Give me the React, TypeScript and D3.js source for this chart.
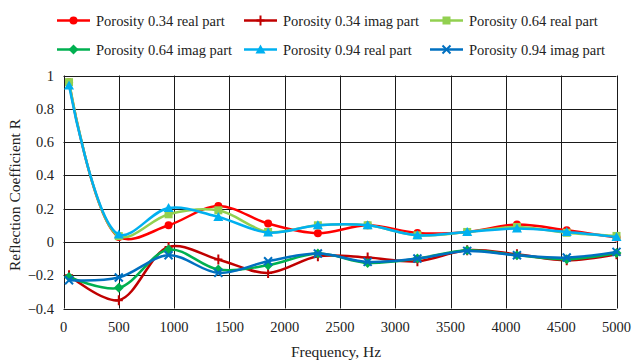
import React, { useEffect, useRef } from "react";
import * as d3 from "d3";

const frequencies = [50, 500, 950, 1400, 1850, 2300, 2750, 3200, 3650, 4100, 4550, 5000];

const real034 = [0.96, 0.03, 0.1, 0.216, 0.11, 0.052, 0.1, 0.054, 0.06, 0.104, 0.07, 0.026];
const imag034 = [-0.2, -0.35, -0.03, -0.106, -0.186, -0.086, -0.094, -0.116, -0.05, -0.074, -0.11, -0.074];
const real064 = [0.96, 0.035, 0.166, 0.19, 0.06, 0.1, 0.1, 0.04, 0.06, 0.09, 0.055, 0.036];
const imag064 = [-0.21, -0.276, -0.046, -0.166, -0.14, -0.07, -0.126, -0.1, -0.05, -0.08, -0.104, -0.066];
const real094 = [0.94, 0.045, 0.204, 0.15, 0.056, 0.1, 0.1, 0.04, 0.06, 0.08, 0.06, 0.03];
const imag094 = [-0.23, -0.214, -0.08, -0.186, -0.116, -0.07, -0.12, -0.1, -0.054, -0.08, -0.094, -0.06];

const seriesNames = [
  "Porosity 0.34 real part",
  "Porosity 0.34 imag part",
  "Porosity 0.64 real part",
  "Porosity 0.64 imag part",
  "Porosity 0.94 real part",
  "Porosity 0.94 imag part",
];
const seriesValues = [real034, imag034, real064, imag064, real094, imag094];
const seriesColors = ["#ff0000", "#c00000", "#92d050", "#00b050", "#00b0f0", "#0070c0"];
const seriesMarkers = ["circle", "plus", "square", "diamond", "triangle", "cross"];

const xTicks = [0, 500, 1000, 1500, 2000, 2500, 3000, 3500, 4000, 4500, 5000];
const yTicks = [-0.4, -0.2, 0, 0.2, 0.4, 0.6, 0.8, 1];

const W = 634;
const H = 363;
const FONT = "'Liberation Serif', serif";
const FS = "14.5px";

function drawMarker(g, type, x, y, color) {
  if (type === "circle") {
    g.append("circle").attr("cx", x).attr("cy", y).attr("r", 4).attr("fill", color);
  } else if (type === "square") {
    g.append("rect").attr("x", x - 4).attr("y", y - 4).attr("width", 8).attr("height", 8).attr("fill", color);
  } else if (type === "diamond") {
    g.append("path").attr("d", `M${x},${y - 5}L${x + 5},${y}L${x},${y + 5}L${x - 5},${y}Z`).attr("fill", color);
  } else if (type === "triangle") {
    g.append("path").attr("d", `M${x},${y - 5}L${x + 5},${y + 4}L${x - 5},${y + 4}Z`).attr("fill", color);
  } else if (type === "plus") {
    g.append("path").attr("d", `M${x},${y - 5}V${y + 5}M${x - 4},${y}H${x + 4}`).attr("stroke", color).attr("stroke-width", 2);
  } else if (type === "cross") {
    g.append("path")
      .attr("d", `M${x - 4},${y - 4}L${x + 4},${y + 4}M${x - 4},${y + 4}L${x + 4},${y - 4}`)
      .attr("stroke", color)
      .attr("stroke-width", 2);
  }
}

const App = () => {
  const ref = useRef(null);

  useEffect(() => {
    const svg = d3.select(ref.current);
    svg.selectAll("*").remove();

    const left = 63.5;
    const right = 616.5;
    const top = 75.5;
    const bottom = 308.5;

    const x = d3.scaleLinear().domain([0, 5000]).range([left, right]);
    const y = d3.scaleLinear().domain([-0.4, 1]).range([bottom, top]);

    // grid
    const grid = svg.append("g").attr("stroke", "#1a1a1a").attr("stroke-width", 1);
    xTicks.forEach((t) => {
      grid.append("line").attr("x1", Math.round(x(t)) + 0.5).attr("x2", Math.round(x(t)) + 0.5).attr("y1", top).attr("y2", bottom);
    });
    yTicks.forEach((t) => {
      grid.append("line").attr("x1", left).attr("x2", right).attr("y1", Math.round(y(t)) + 0.5).attr("y2", Math.round(y(t)) + 0.5);
    });

    const txt = (sel) => sel.style("font-family", FONT).style("font-size", FS).attr("fill", "#222");

    // tick labels
    svg
      .append("g")
      .selectAll("text")
      .data(yTicks)
      .enter()
      .append("text")
      .attr("x", 54)
      .attr("y", (d) => y(d) + 5)
      .attr("text-anchor", "end")
      .call(txt)
      .text((d) => d3.format("")(+d.toFixed(1)));

    svg
      .append("g")
      .selectAll("text")
      .data(xTicks)
      .enter()
      .append("text")
      .attr("x", (d) => x(d))
      .attr("y", 332)
      .attr("text-anchor", "middle")
      .call(txt)
      .text((d) => d);

    svg
      .append("text")
      .attr("x", 336)
      .attr("y", 357)
      .attr("text-anchor", "middle")
      .call(txt)
      .style("font-size", "15.5px")
      .text("Frequency, Hz");

    svg
      .append("text")
      .attr("transform", "translate(20,195) rotate(-90)")
      .attr("text-anchor", "middle")
      .call(txt)
      .style("font-size", "15.5px")
      .text("Reflection Coefficient R");

    // series
    const line = d3
      .line()
      .x((d) => x(d[0]))
      .y((d) => y(d[1]))
      .curve(d3.curveCatmullRom.alpha(0.5));

    seriesValues.forEach((vals, i) => {
      const pts = frequencies.map((f, k) => [f, vals[k]]);
      const g = svg.append("g");
      g.append("path")
        .attr("d", line(pts))
        .attr("fill", "none")
        .attr("stroke", seriesColors[i])
        .attr("stroke-width", 2.5)
        .attr("stroke-linejoin", "round");
      pts.forEach((p) => drawMarker(g, seriesMarkers[i], x(p[0]), y(p[1]), seriesColors[i]));
    });

    // legend
    const colX = [57, 244, 430];
    const rowY = [20.5, 49.5];
    seriesNames.forEach((name, i) => {
      const lx = colX[i % 3];
      const ly = rowY[Math.floor(i / 3)];
      const g = svg.append("g");
      g.append("line").attr("x1", lx).attr("x2", lx + 33).attr("y1", ly).attr("y2", ly).attr("stroke", seriesColors[i]).attr("stroke-width", 2.5);
      drawMarker(g, seriesMarkers[i], lx + 16.5, ly, seriesColors[i]);
      g.append("text").attr("x", lx + 39).attr("y", ly + 5).call(txt).text(name);
    });
  }, []);

  return <svg ref={ref} width={W} height={H} style={{ position: "absolute", left: 0, top: 0, background: "#fff" }}></svg>;
};

export default App;
